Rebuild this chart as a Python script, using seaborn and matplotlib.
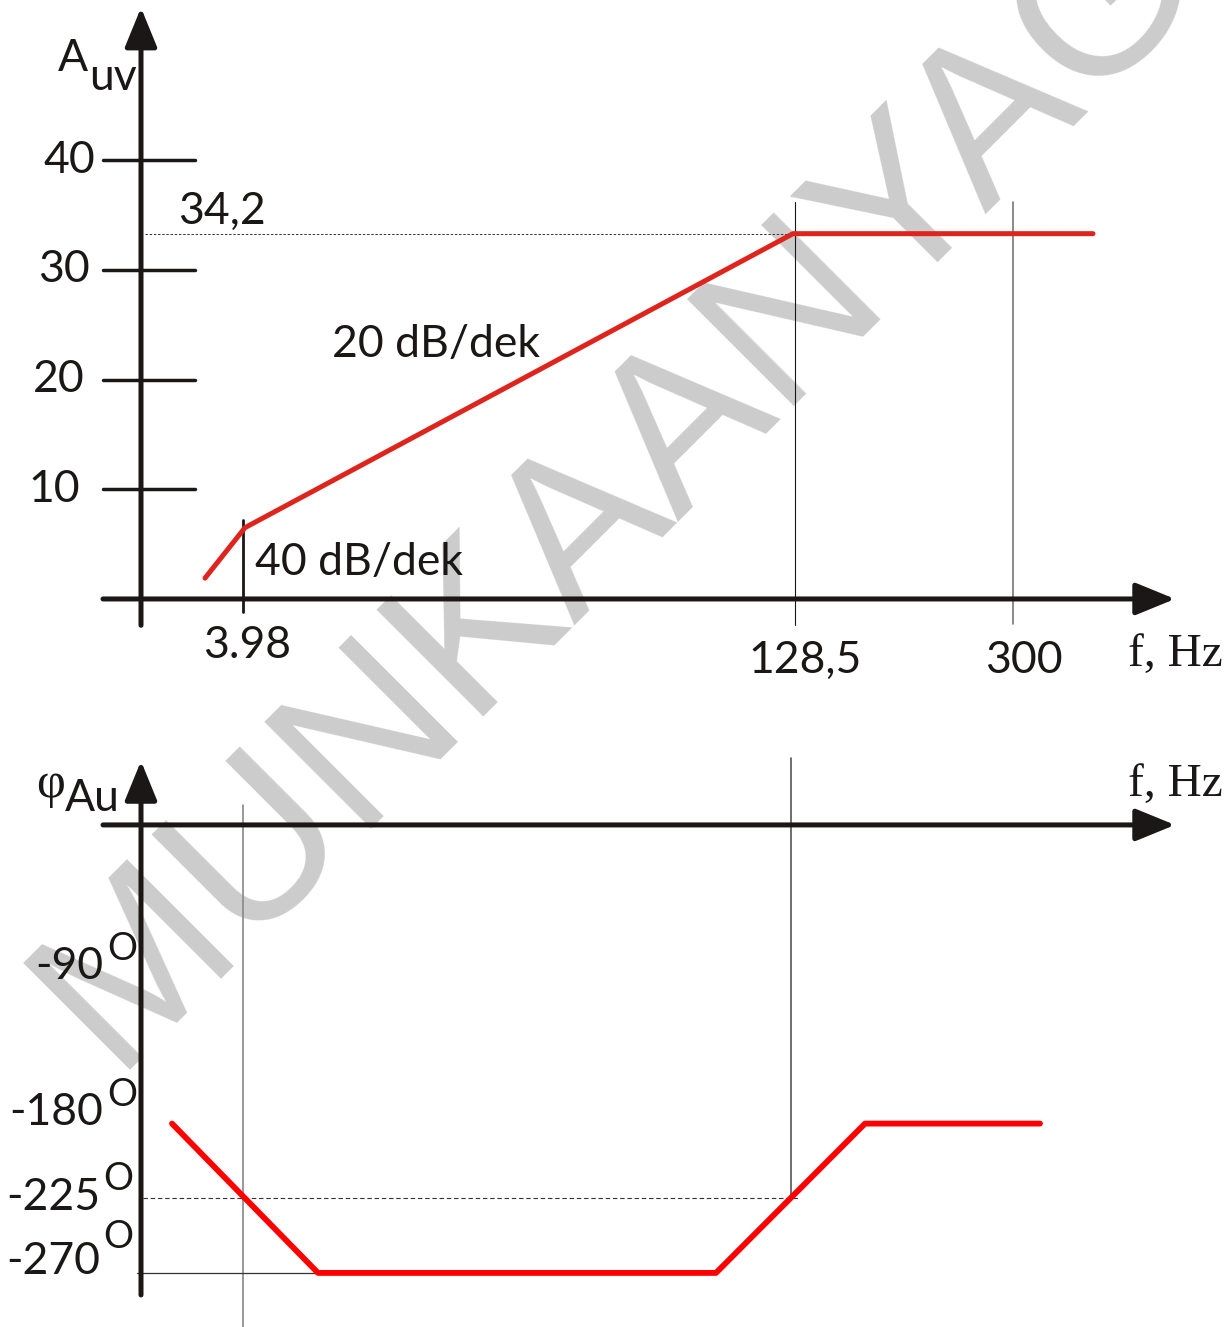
import matplotlib
matplotlib.use("Agg")
import matplotlib.pyplot as plt
import seaborn as sns

# amplitude characteristic: schematic frequency position vs. gain in dB
mag_pos = [6.4, 10.4, 65.2, 95.2]
mag_db = [1.9, 6.5, 33.3, 33.3]
mag_ticks = [10, 20, 30, 40]
mag_corner = 33.3
mag_corner_label = "34,2"

# phase characteristic: schematic frequency position vs. phase in degrees
phase_pos = [3.1, 17.7, 57.5, 72.4, 89.9]
phase_deg = [-180, -270, -270, -180, -180]
phase_ticks = [-90, -180, -225, -270]
phase_ref = -225

# marked frequencies on the (schematic) frequency axis
freq_pos = [10.2, 65.4, 87.2]
freq_labels = ["3.98", "128,5", "300"]

INK = "#1a1716"
sns.set_style("white")
plt.rcParams["font.family"] = ["Lato", "DejaVu Sans"]
SERIF = ["Liberation Serif", "DejaVu Serif"]

fig = plt.figure(figsize=(12.31, 13.27), dpi=100)

# watermark behind everything
fig.text(0.502, 0.636, "MUNKAANYAG", rotation=45, fontsize=158,
         color="#cccccc", ha="center", va="center", zorder=-1,
         family=["Liberation Sans"], rotation_mode="anchor")

arrow = dict(arrowstyle="-|>,head_length=1.1,head_width=0.45", mutation_scale=22,
             lw=3.6, color=INK, shrinkA=0, shrinkB=0)
lab = dict(fontsize=32, color=INK, va="center")

# ---------------- amplitude plot ----------------
ax1 = fig.add_axes([0, 0.4725, 1, 0.5275])
ax1.set_xlim(-14.1, 109.0)
ax1.set_ylim(-9.21, 54.6)
ax1.axis("off")

ax1.annotate("", xy=(103.4, 0), xytext=(-3.8, 0), arrowprops=arrow)
ax1.annotate("", xy=(0, 53.9), xytext=(0, -2.4), arrowprops=arrow)

lab_x = [-6.1, -5.6, -5.1, -4.6]
for v, lx in zip(mag_ticks, lab_x):
    ax1.plot([-3.8, 5.4], [v, v], color=INK, lw=2.5)
    ax1.text(lx, v, str(v), ha="right", **lab)

ax1.plot([0.4, freq_pos[1]], [mag_corner, mag_corner], color="#333333", lw=0.7,
         dashes=(2.5, 1.8))
ax1.plot([freq_pos[0]] * 2, [-1.2, 7.2], color=INK, lw=2)
ax1.plot([freq_pos[1]] * 2, [-2.4, 36.2], color=INK, lw=0.8)
ax1.plot([freq_pos[2]] * 2, [-2.3, 36.2], color="#777777", lw=1.2)

sns.lineplot(x=mag_pos, y=mag_db, ax=ax1, color="#de251d", lw=3.6,
             estimator=None, sort=False)

ax1.text(-8.3, 49.3, "A", ha="left", **lab)
ax1.text(-5.2, 47.5, "uv", ha="left", **lab)
ax1.text(3.7, 35.3, mag_corner_label, ha="left", **lab)
ax1.text(19.1, 23.2, "20 dB/dek", ha="left", **lab)
ax1.text(11.4, 3.3, "40 dB/dek", ha="left", **lab)
for lx, ly, t in zip([6.2, 60.7, 84.4], [-4.2, -5.6, -5.6], freq_labels):
    ax1.text(lx, ly, t, ha="left", **lab)
ax1.text(98.7, -5.1, "f, Hz", ha="left", va="center", fontsize=34, color=INK,
         family=SERIF)

# ---------------- phase plot ----------------
ax2 = fig.add_axes([0, 0, 1, 0.4725])
ax2.set_xlim(-14.1, 109.0)
ax2.set_ylim(-302.6, 75.3)
ax2.axis("off")

ax2.annotate("", xy=(103.4, 0), xytext=(-3.8, 0), arrowprops=arrow)
ax2.annotate("", xy=(0, 38.5), xytext=(0, -283.3), arrowprops=arrow)

ax2.plot([freq_pos[0]] * 2, [12.1, -302.6], color="#888888", lw=1.2)
ax2.plot([65.0] * 2, [40.4, -226], color="#555555", lw=1.2)
ax2.plot([0.2, 65.9], [phase_ref, phase_ref], color="#333333", lw=0.8,
         dashes=(4, 2.5))
ax2.plot([-0.4, phase_pos[1]], [phase_deg[1]] * 2, color="#333333", lw=0.9)

sns.lineplot(x=phase_pos, y=phase_deg, ax=ax2, color="#ff0000", lw=4.2,
             estimator=None, sort=False)

num_y = [-85.6, -173.6, -224.8, -263.4]
sup_y = [-74.7, -162.7, -213.4, -248.3]
num_x = [-3.8, -3.8, -4.1, -4.1]
sup_x = [-3.4, -3.4, -3.8, -3.8]
for v, nx, ny, sx, sy in zip(phase_ticks, num_x, num_y, sup_x, sup_y):
    ax2.text(nx, ny, f"-{abs(v)}", ha="right", **lab)
    ax2.text(sx, sy, "O", ha="left", va="center", fontsize=27, color=INK)

ax2.text(-9.0, 24.5, "φ", ha="center", va="center", fontsize=36, color=INK,
         family=SERIF)
ax2.text(-7.6, 16.0, "Au", ha="left", **lab)
ax2.text(98.7, 24.1, "f, Hz", ha="left", va="center", fontsize=34, color=INK,
         family=SERIF)

fig.savefig("out.png", dpi=100)
